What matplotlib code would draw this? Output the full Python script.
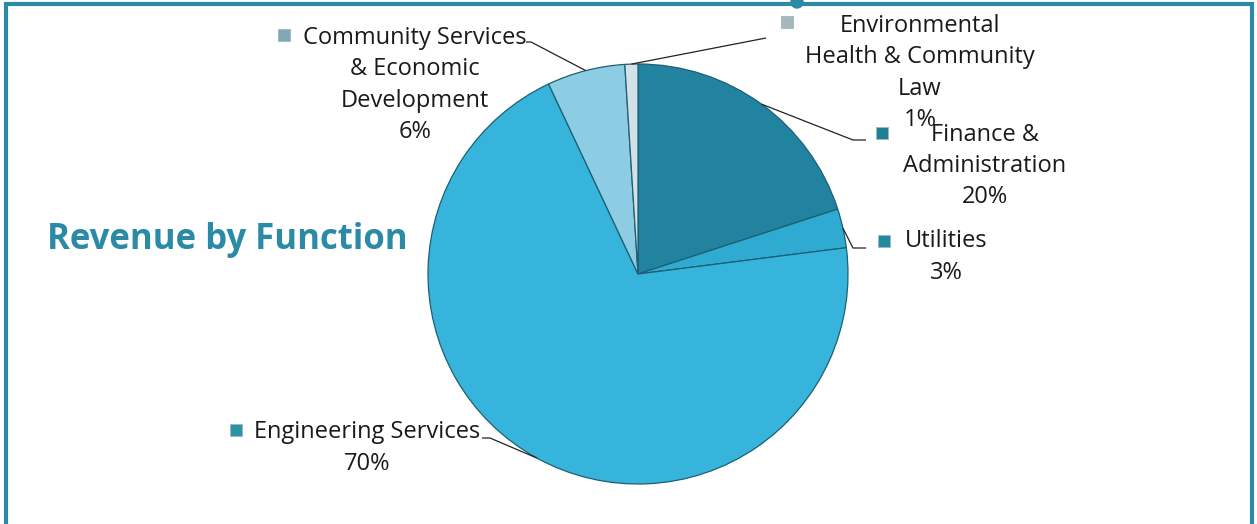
import matplotlib
matplotlib.use("Agg")
import matplotlib.pyplot as plt
from matplotlib.patches import Circle
import numpy as np

# slices, clockwise from 12 o'clock
labels = ["Finance &\nAdministration", "Utilities", "Engineering Services",
          "Community Services\n& Economic\nDevelopment", "Environmental\nHealth & Community\nLaw"]
values = [20, 3, 70, 6, 1]
colors = ["#2283a0", "#2faad0", "#37b4db", "#8dcde3", "#d2e2e8"]
marker_colors = ["#1f7f94", "#23899e", "#2a93a6", "#7fa9b4", "#a8b6bd"]

W, H = 1257, 524
TEAL = "#2b8aa5"

fig = plt.figure(figsize=(W / 100, H / 100), dpi=100)
ax = fig.add_axes([0, 0, 1, 1])

def Y(v):
    # image row -> data y
    return H - v

cx, cy, R = 638, Y(274), 210
wedges, _ = ax.pie(values, colors=colors, startangle=90, counterclock=False,
                   center=(cx, cy), radius=R, frame=True,
                   wedgeprops=dict(edgecolor="#1d5f73", linewidth=0.9))
ax.set_xlim(0, W)
ax.set_ylim(0, H)
ax.set_aspect("equal")
ax.axis("off")

# label layout: text centre, marker position, leader knee, leader end near text
layout = [
    dict(text=(985, 166), mark=(882, 133), knee=(853, 140), end=(866, 140)),
    dict(text=(946, 257), mark=(884, 241), knee=(853, 248), end=(866, 248)),
    dict(text=(367, 448), mark=(236, 430), knee=(490, 438), end=(482, 438)),
    dict(text=(415, 85), mark=(284, 35), knee=(531, 42), end=(526, 42)),
    dict(text=(920, 73), mark=(787, 22), knee=(766, 38), end=(766, 38)),
]

for w, lab, v, mc, lay in zip(wedges, labels, values, marker_colors, layout):
    mid = np.deg2rad((w.theta1 + w.theta2) / 2)
    ex, ey = cx + R * np.cos(mid), cy + R * np.sin(mid)
    kx, ky = lay["knee"]
    nx, ny = lay["end"]
    ax.plot([ex, kx, nx], [ey, Y(ky), Y(ny)], color="#222222", lw=0.9,
            solid_capstyle="butt")
    tx, ty = lay["text"]
    ax.text(tx, Y(ty), f"{lab}\n{v}%", ha="center", va="center",
            fontsize=17, family="Open Sans", color="#1a1a1a", linespacing=1.4)
    mx, my = lay["mark"]
    ax.scatter([mx], [Y(my)], marker="s", s=70, color=mc, edgecolors="#9fb8bf",
               linewidths=0.6, zorder=5)

ax.text(47, Y(240), "Revenue by Function", ha="left", va="center",
        fontsize=25, family="Open Sans", fontweight="bold", color=TEAL)

# frame border (open at the bottom) and the small tab at top
ax.plot([6, 6, W - 5, W - 5], [0, Y(4), Y(4), 0], color=TEAL, lw=3,
        solid_joinstyle="miter", clip_on=False)
ax.add_patch(Circle((797, Y(2)), 6, color=TEAL, clip_on=False))

plt.savefig("out.png", dpi=100)
